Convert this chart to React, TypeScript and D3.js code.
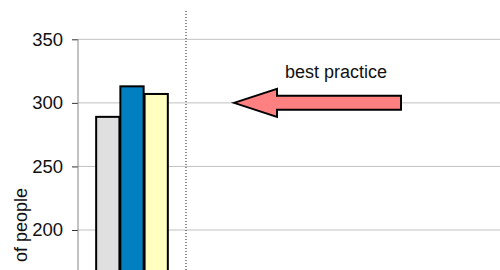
import React, { useEffect, useRef } from "react";
import * as d3 from "d3";

const categories = ["current"];
const series = ["previous", "this year", "target"];
const values = [289, 313, 307];
const colors = ["#e0e0e0", "#0080c0", "#ffffc0"];
const yTicks = [200, 250, 300, 350];
const bestPractice = 300;
const annotationText = "best practice";
const yLabel = "of people";

function App() {
  const svgRef = useRef<SVGSVGElement>(null);

  useEffect(() => {
    const w = 500;
    const h = 270;
    const left = 78;
    const font = "Liberation Sans, Arial, sans-serif";

    const svg = d3.select(svgRef.current).attr("width", w).attr("height", h);
    svg.selectAll("*").remove();

    const yScale = d3.scaleLinear().domain([200, 350]).range([230, 39.3]);
    const x0 = d3.scaleBand().domain(categories).range([left, 186]);
    const x1 = d3
      .scaleBand()
      .domain(series)
      .range([0, x0.bandwidth()])
      .paddingOuter(0.75)
      .paddingInner(0.04);

    // gridlines
    svg
      .append("g")
      .selectAll("line")
      .data(yTicks)
      .join("line")
      .attr("x1", left)
      .attr("x2", w)
      .attr("y1", (d) => yScale(d))
      .attr("y2", (d) => yScale(d))
      .style("stroke", "#c0c0c0")
      .style("stroke-width", 1);

    // y axis
    const yAxis = d3
      .axisLeft(yScale)
      .tickValues(yTicks)
      .tickSize(6)
      .tickPadding(9)
      .tickSizeOuter(0);
    const ax = svg
      .append("g")
      .attr("transform", `translate(${left},0)`)
      .call(yAxis);
    ax.select(".domain").remove();
    ax.selectAll("line").style("stroke", "#333");
    ax
      .selectAll("text")
      .style("font-family", font)
      .style("font-size", "18.5px")
      .style("fill", "#111");
    svg
      .append("line")
      .attr("x1", left)
      .attr("x2", left)
      .attr("y1", yScale(350))
      .attr("y2", h)
      .style("stroke", "#888");

    // separator
    svg
      .append("line")
      .attr("x1", 186)
      .attr("x2", 186)
      .attr("y1", 11)
      .attr("y2", h)
      .style("stroke", "#222")
      .style("stroke-dasharray", "1,2");

    // bars
    svg
      .append("g")
      .selectAll("rect")
      .data(values)
      .join("rect")
      .attr("x", (v, i) => (x0(categories[0]) as number) + (x1(series[i]) as number))
      .attr("y", (v) => yScale(v))
      .attr("width", x1.bandwidth())
      .attr("height", (v) => h + 10 - yScale(v))
      .style("fill", (v, i) => colors[i])
      .style("stroke", "#000")
      .style("stroke-width", 2);

    // annotation arrow
    const ay = yScale(bestPractice);
    const tip = 234;
    const headX = 277;
    const tail = 401;
    const arrow = d3.path();
    arrow.moveTo(tip, ay);
    arrow.lineTo(headX, ay - 14);
    arrow.lineTo(headX, ay - 7);
    arrow.lineTo(tail, ay - 7);
    arrow.lineTo(tail, ay + 7);
    arrow.lineTo(headX, ay + 7);
    arrow.lineTo(headX, ay + 14);
    arrow.closePath();
    svg
      .append("path")
      .attr("d", arrow.toString())
      .style("fill", "#ff8080")
      .style("stroke", "#000")
      .style("stroke-width", 2)
      .style("stroke-linejoin", "miter");

    svg
      .append("text")
      .attr("x", 336)
      .attr("y", 78)
      .attr("text-anchor", "middle")
      .style("font-family", font)
      .style("font-size", "18px")
      .style("fill", "#111")
      .text(annotationText);

    svg
      .append("text")
      .attr("transform", "translate(27,188) rotate(-90)")
      .attr("text-anchor", "end")
      .style("font-family", font)
      .style("font-size", "18px")
      .style("fill", "#111")
      .text(yLabel);
  }, []);

  return (
    <div>
      <svg
        ref={svgRef}
        style={{ position: "absolute", left: 0, top: 0, display: "block" }}
      ></svg>
    </div>
  );
}

export default App;
